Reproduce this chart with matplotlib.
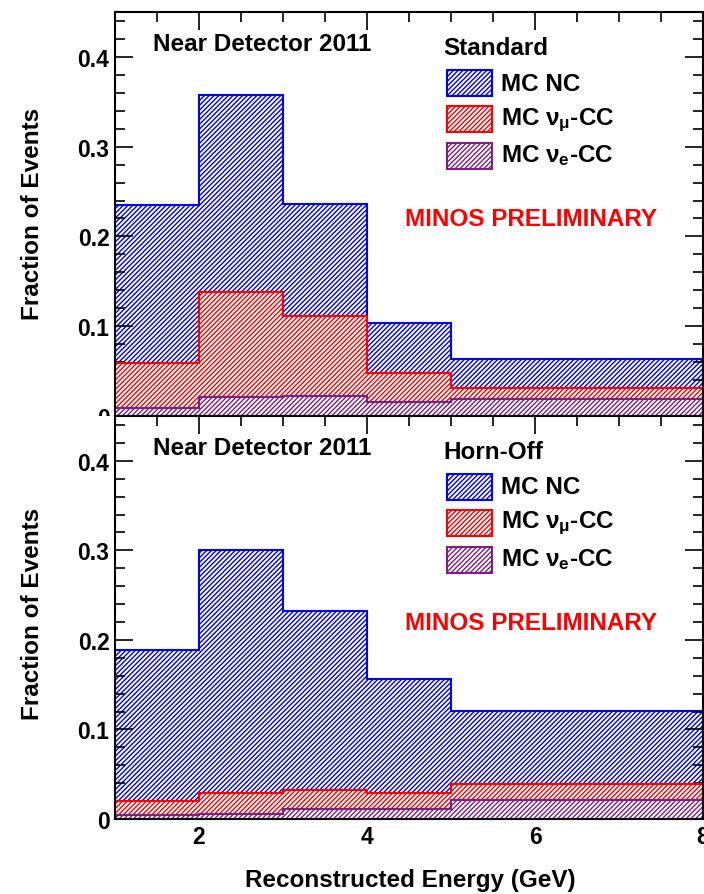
import numpy as np
import matplotlib
matplotlib.use("Agg")
import matplotlib.pyplot as plt
from matplotlib.patches import Rectangle
from matplotlib.ticker import MultipleLocator, FuncFormatter

plt.rcParams['font.family'] = ['Liberation Sans', 'DejaVu Sans']
plt.rcParams['font.weight'] = 'bold'
plt.rcParams['mathtext.fontset'] = 'custom'
plt.rcParams['mathtext.rm'] = 'Liberation Sans:bold'
plt.rcParams['mathtext.it'] = 'Liberation Sans:bold'
plt.rcParams['mathtext.bf'] = 'Liberation Sans:bold'
plt.rcParams['hatch.linewidth'] = 1.0

# bin edges (GeV)
edges = [1, 2, 3, 4, 5, 8]

# Standard beam
std_nc = [0.235, 0.358, 0.236, 0.104, 0.063]
std_numu = [0.059, 0.138, 0.111, 0.048, 0.031]
std_nue = [0.009, 0.021, 0.022, 0.016, 0.019]

# Horn-off beam
off_nc = [0.189, 0.300, 0.232, 0.156, 0.121]
off_numu = [0.020, 0.029, 0.032, 0.029, 0.039]
off_nue = [0.005, 0.006, 0.011, 0.011, 0.021]

labels = ['MC NC', r'MC $\nu_{\mu}$-CC', r'MC $\nu_{e}$-CC']
colors = ['#0000ff', '#ff0000', '#7f1f7f']
HATCH = '///////'

W, H = 704, 895
fig = plt.figure(figsize=(W / 100, H / 100), dpi=100)

ax_top = fig.add_axes([115 / W, 1 - 417 / H, 588 / W, 404 / H], zorder=0)
ax_bot = fig.add_axes([115 / W, 1 - 820 / H, 588 / W, 403 / H], zorder=2)

# white block so the top "0" label is cut like the ROOT pad
fig.patches.append(Rectangle((0, 1 - 432 / H), 115 / W, 15 / H,
                             transform=fig.transFigure, facecolor='white',
                             edgecolor='none', zorder=1))

FS = 17.5


def draw_panel(ax, series, title, ylab_y):
    for i, (vals, col) in enumerate(zip(series, colors)):
        ax.stairs(vals, edges, fill=True, facecolor='white', edgecolor=col,
                  hatch=HATCH, linewidth=1.5, zorder=1 + i)
    ax.set_xlim(1, 8)
    ax.set_ylim(0, 0.45)
    ax.xaxis.set_major_locator(MultipleLocator(2))
    ax.xaxis.set_minor_locator(MultipleLocator(0.5))
    ax.yaxis.set_major_locator(MultipleLocator(0.1))
    ax.yaxis.set_minor_locator(MultipleLocator(0.02))
    ax.yaxis.set_major_formatter(FuncFormatter(lambda v, p: '0' if abs(v) < 1e-9 else f'{v:.1f}'))
    ax.tick_params(which='both', direction='in', top=True, right=True, labelsize=16.5)
    ax.tick_params(which='major', length=13, width=1.2, pad=4)
    ax.tick_params(which='minor', length=7, width=1.2)
    for s in ax.spines.values():
        s.set_linewidth(1.5)
        s.set_zorder(10)
    ax.set_ylabel('Fraction of Events', fontsize=FS, fontweight='bold')
    ax.yaxis.set_label_coords(-0.141, ylab_y)
    ax.yaxis.label.set_va('center')

    ax.text(0.065, 0.921, 'Near Detector 2011', transform=ax.transAxes,
            fontsize=FS, fontweight='bold', va='center', ha='left')
    ax.text(0.558, 0.911, title, transform=ax.transAxes,
            fontsize=FS, fontweight='bold', va='center', ha='left')
    box_y = [0.792, 0.703, 0.611]
    txt_y = [0.824, 0.735, 0.646]
    for lab, col, by, ty in zip(labels, colors, box_y, txt_y):
        ax.add_patch(Rectangle((0.565, by), 0.0765, 0.064, transform=ax.transAxes,
                               facecolor='white', edgecolor=col, hatch=HATCH,
                               linewidth=1.5, zorder=5))
        ax.text(0.656, ty, lab, transform=ax.transAxes, fontsize=FS,
                fontweight='bold', va='center', ha='left')
    ax.text(0.707, 0.488, 'MINOS PRELIMINARY', transform=ax.transAxes,
            fontsize=FS, fontweight='bold', color='#ff0000', va='center', ha='center')


draw_panel(ax_top, [std_nc, std_numu, std_nue], 'Standard', 0.502)
draw_panel(ax_bot, [off_nc, off_numu, off_nue], 'Horn-Off', 0.511)

ax_top.tick_params(labelbottom=False)
ax_bot.set_xlabel('Reconstructed Energy (GeV)', fontsize=FS, fontweight='bold')
ax_bot.xaxis.set_label_coords(0.502, -0.149)
ax_bot.xaxis.label.set_va('center')

fig.savefig('out.png', dpi=100)
